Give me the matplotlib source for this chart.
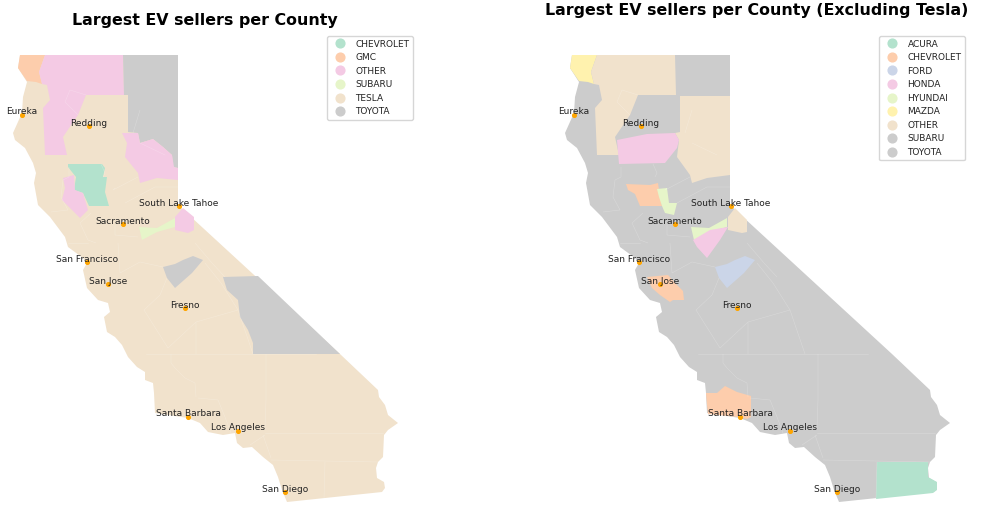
import matplotlib
matplotlib.use("Agg")
import matplotlib.pyplot as plt
from matplotlib.lines import Line2D
from matplotlib.patches import Polygon

# map units are pixels of the left panel, y pointing down
state = [(20,55),(45,55),(123,55),(178,55),(178,205),(340,354),(378,390),(379,397),(385,405),(388,415),(398,423),
         (388,430),(384,435),(383,457),(378,462),(376,468),(377,478),(384,482),(385,488),(382,492),(287,502),
         (282,490),(278,477),(273,465),(263,457),(252,447),(243,448),(237,443),(235,433),(223,435),(208,432),
         (200,423),(188,418),(155,413),(154,393),(153,383),(145,380),(145,372),(137,367),(128,357),(122,345),
         (115,337),(107,332),(104,317),(110,312),(108,303),(98,300),(87,288),(83,270),(87,263),(83,258),
         (68,247),(65,237),(50,217),(38,205),(34,183),(36,173),(33,163),(25,148),(15,140),(13,133),
         (22,113),(23,97),(27,82),(18,68)]

del_norte = [(20,55),(45,55),(39,72),(42,84),(36,82),(27,81),(18,68)]
siskiyou_trinity = [(45,55),(123,55),(124,95),(86,95),(78,115),(63,137),(67,155),(45,155),(43,108),(50,100),(47,85),(42,84),(39,72)]
modoc = [(123,55),(178,55),(178,95),(124,95)]
lassen = [(128,95),(178,95),(178,168),(173,167),(172,155),(163,147),(153,139),(140,143),(138,133),(128,132)]
plumas_sierra = [(122,133),(138,133),(140,143),(153,139),(163,147),(172,155),(174,167),(178,168),(178,180),
                 (157,178),(140,183),(138,173),(125,157),(127,143)]
lassen_plumas = [(128,96),(178,96),(178,175),(155,178),(140,183),(138,175),(125,157),(127,140),(123,133),(128,132)]
tehama = [(65,140),(95,134),(123,133),(127,140),(125,148),(113,163),(67,164)]
glenn_colusa = [(68,164),(102,164),(105,168),(103,177),(107,177),(105,192),(109,206),(89,206),(83,193),(74,190),(76,177),(68,167)]
lake_sonoma = [(63,178),(74,175),(75,190),(83,193),(88,210),(80,218),(72,210),(62,200),(65,188)]
amador = [(139,227),(157,228),(175,218),(175,227),(157,232),(142,240)]
alpine = [(183,208),(175,217),(175,230),(188,233),(194,230),(194,217)]
alpine_r = [(183,208),(195,220),(195,232),(190,233),(176,230),(176,217)]
madera = [(163,267),(175,264),(183,260),(193,256),(203,260),(192,273),(175,288),(167,278)]
inyo = [(223,277),(258,276),(340,354),(253,354),(253,343),(248,330),(240,317),(238,300),(227,290)]
colusa = [(74,184),(98,185),(106,183),(107,190),(110,206),(88,206),(83,194),(76,190)]
sutter = [(105,189),(115,188),(117,203),(125,203),(122,215),(113,213),(110,206),(107,197)]
calaveras = [(141,240),(158,230),(176,227),(168,240),(155,258),(145,247)]
santa_clara = [(95,277),(116,275),(123,283),(131,291),(132,300),(121,300),(118,302),(108,295),(100,288)]
santa_barbara = [(154,393),(165,393),(173,386),(185,392),(199,396),(199,417),(195,419),(186,417),(156,414),(155,405)]
imperial = [(325,462),(376,462),(376,477),(385,482),(385,490),(381,493),(324,499)]

borders = [
    [(146,354),(316,354)],
    [(171,354),(171,363),(175,368),(185,378),(195,383),(196,397)],
    [(266,354),(266,400),(265,430)],
    [(198,398),(218,400),(225,417),(231,433)],
    [(265,433),(353,433),(383,433)],
    [(271,460),(378,462)],
    [(325,462),(324,499)],
    [(263,435),(271,458)],
    [(250,445),(265,435)],
    [(168,348),(196,322),(196,354)],
    [(196,322),(238,310),(253,354)],
    [(238,310),(221,283),(205,263)],
    [(144,310),(168,348)],
    [(144,310),(160,295),(167,278)],
    [(69,167),(69,177),(63,180),(61,197),(68,210),(51,212)],
    [(101,164),(105,173),(103,177)],
    [(138,177),(113,190),(115,188)],
    [(178,187),(155,187),(125,203)],
    [(115,225),(115,235),(138,237)],
    [(91,213),(80,223),(88,240),(96,243)],
    [(118,243),(120,273)],
    [(68,243),(88,243)],
    [(195,243),(212,263),(225,277)],
    [(120,273),(140,262),(163,267)],
    [(86,95),(70,90),(65,102),(78,115)],
    [(133,133),(140,110)],
    [(140,143),(165,155)],
]

left_labels = ["CHEVROLET", "GMC", "OTHER", "SUBARU", "TESLA", "TOYOTA"]
left_idx = [0, 1, 3, 4, 6, 7]
left_regions = [(del_norte, "GMC"), (siskiyou_trinity, "OTHER"), (modoc, "TOYOTA"), (lassen, "TOYOTA"),
                (plumas_sierra, "OTHER"), (glenn_colusa, "CHEVROLET"), (lake_sonoma, "OTHER"),
                (amador, "SUBARU"), (alpine, "OTHER"), (madera, "TOYOTA"), (inyo, "TOYOTA")]

right_labels = ["ACURA", "CHEVROLET", "FORD", "HONDA", "HYUNDAI", "MAZDA", "OTHER", "SUBARU", "TOYOTA"]
right_idx = [0, 1, 2, 3, 4, 5, 6, 7, 7]
right_regions = [(del_norte, "MAZDA"), (siskiyou_trinity, "OTHER"), (lassen_plumas, "OTHER"), (tehama, "HONDA"),
                 (colusa, "CHEVROLET"), (sutter, "HYUNDAI"), (amador, "HYUNDAI"), (calaveras, "HONDA"),
                 (alpine_r, "OTHER"), (madera, "FORD"), (santa_clara, "CHEVROLET"),
                 (santa_barbara, "CHEVROLET"), (imperial, "ACURA")]

cities = ["Eureka", "Redding", "South Lake Tahoe", "Sacramento", "San Francisco", "San Jose", "Fresno",
          "Santa Barbara", "Los Angeles", "San Diego"]
city_x = [22, 89, 179, 123, 87, 108, 185, 188, 238, 285]
city_y = [115, 126, 206, 224, 262, 284, 308, 417, 431, 492]

pastel = plt.get_cmap("Pastel2")
W, H = 991, 518
PANEL = 439


def draw_map(ax, labels, idx, regions, base, title, title_y, legend_xy):
    colors = {l: pastel(i) for l, i in zip(labels, idx)}
    ax.add_patch(Polygon(state, closed=True, fc=colors[base], ec="none"))
    for poly, name in regions:
        ax.add_patch(Polygon(poly, closed=True, fc=colors[name], ec="none"))
    for line in borders:
        ax.plot([p[0] for p in line], [p[1] for p in line], color="white", lw=0.4, alpha=0.25)
    ax.scatter(city_x, city_y, s=7, color="orange", zorder=3)
    for name, x, y in zip(cities, city_x, city_y):
        ax.text(x, y - 3, name, fontsize=6.5, ha="center", va="center", color="#222222", zorder=4)
    ax.text(205, title_y, title, fontsize=11.45, fontweight="bold", ha="center", va="center")
    handles = [Line2D([], [], ls="none", marker="o", ms=6.3, color=colors[l], label=l) for l in labels]
    ax.legend(handles=handles, loc="upper left", bbox_to_anchor=legend_xy, bbox_transform=ax.transData,
              fontsize=6.5, borderaxespad=0, labelspacing=0.5, handletextpad=0.75, labelcolor="#222222")
    ax.set_xlim(0, PANEL)
    ax.set_ylim(H, 0)
    ax.axis("off")


fig = plt.figure(figsize=(W / 100, H / 100), dpi=100)
ax1 = fig.add_axes([0, 0, PANEL / W, 1])
ax2 = fig.add_axes([552 / W, 0, PANEL / W, 1])

draw_map(ax1, left_labels, left_idx, left_regions, "TESLA", "Largest EV sellers per County", 21, (327, 36))
draw_map(ax2, right_labels, right_idx, right_regions, "TOYOTA", "Largest EV sellers per County (Excluding Tesla)", 11, (327, 36))

fig.savefig("out.png", dpi=100)
